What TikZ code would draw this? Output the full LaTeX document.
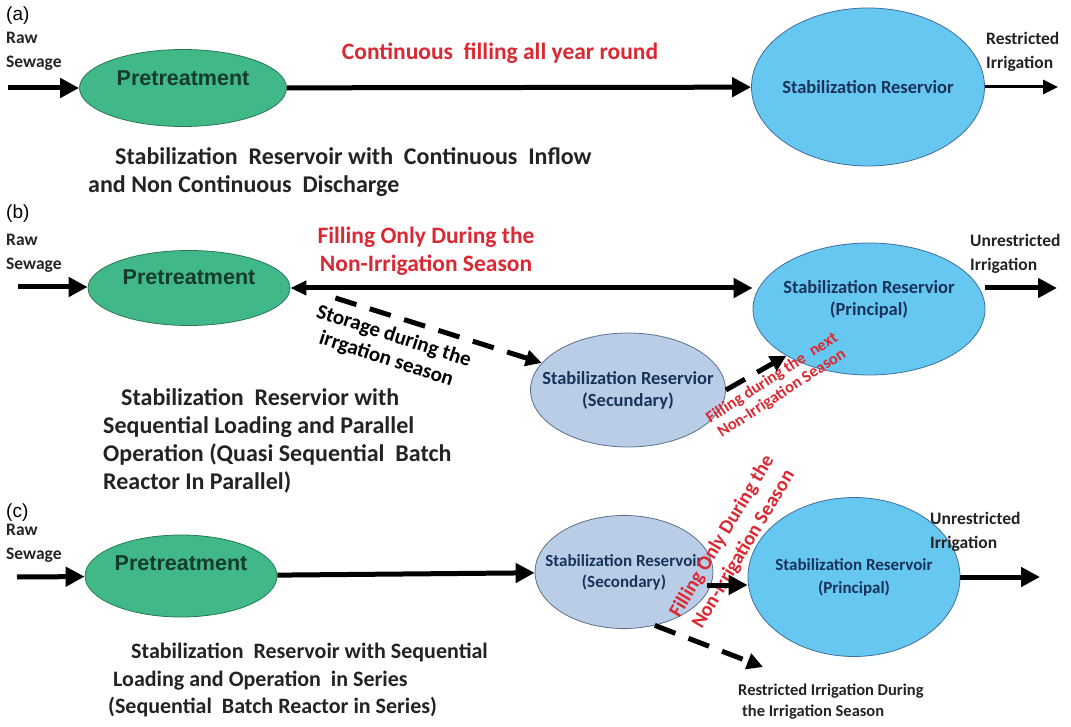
\documentclass[tikz,border=0pt]{standalone}
\usepackage{fontspec}
\setmainfont{Carlito}
\newfontfamily\arialfont{Liberation Sans}
\usetikzlibrary{shapes.geometric,arrows.meta}

\definecolor{pgreen}{RGB}{64,184,136}
\definecolor{pgreenD}{RGB}{40,120,85}
\definecolor{ptext}{RGB}{20,60,40}
\definecolor{rblue}{RGB}{102,200,240}
\definecolor{rblueD}{RGB}{60,110,160}
\definecolor{rtext}{RGB}{25,50,90}
\definecolor{sgray}{RGB}{185,205,230}
\definecolor{sgrayD}{RGB}{90,110,140}
\definecolor{fillred}{RGB}{220,40,50}
\definecolor{captxt}{RGB}{35,35,35}

\tikzset{
  flow/.style={line width=5pt, -{Triangle[length=19pt,width=19pt]}},
  thinflow/.style={line width=3pt, -{Triangle[length=15pt,width=14pt]}},
  dflow/.style={line width=5pt, dash pattern=on 22pt off 14pt, -{Triangle[length=16pt,width=16pt]}},
  pretreat/.style={ellipse, draw=pgreenD, fill=pgreen, line width=0.8pt, inner sep=0pt},
  principal/.style={ellipse, draw=rblueD, fill=rblue, line width=0.8pt, inner sep=0pt},
  secondary/.style={ellipse, draw=sgrayD, fill=sgray, line width=0.8pt, inner sep=0pt},
  pretxt/.style={font=\arialfont\bfseries\fontsize{21.5}{24}\selectfont, text=ptext},
  restxt/.style={font=\bfseries\fontsize{18.5}{22}\selectfont, text=rtext, align=center},
  letter/.style={font=\arialfont\fontsize{19}{22}\selectfont, anchor=west, inner sep=0pt},
  side/.style={font=\bfseries\fontsize{17.5}{24}\selectfont, text=captxt, align=left, anchor=west, inner sep=0pt},
  caption/.style={font=\bfseries\fontsize{24}{28}\selectfont, text=captxt, align=left, anchor=west, inner sep=0pt},
  redtxt/.style={font=\bfseries\fontsize{23.5}{28}\selectfont, text=fillred, align=center, inner sep=0pt},
}

\begin{document}
\begin{tikzpicture}[x=1pt,y=-1pt]
\useasboundingbox (0,0) rectangle (1071,727);

% (a) continuous inflow
\node[letter] (la) at (6,16) {(a)};
\node[side] (rawA) at (6,51) {Raw\\Sewage};
\coordinate (inA) at (8,88);
\coordinate (outA) at (1058,87);
\node[pretreat, minimum width=207pt, minimum height=77pt,
      label={[pretxt, yshift=10pt]center:Pretreatment}] (pretA) at (183,88) {};
\node[principal, minimum width=233pt, minimum height=158pt,
      label={[restxt]center:Stabilization Reservior}] (resA) at (868,87) {};
\node[redtxt] (fillA) at (500,53) {Continuous\ \ filling all year round};
\node[side] (irrA) at (986,52) {Restricted\\Irrigation};
\draw[flow] (inA) -- (pretA);
\draw[flow] (pretA) -- (resA);
\draw[thinflow] (resA) -- (outA);
\node[caption] (capA) at (88,172) {\hspace*{27pt}Stabilization\ \ Reservoir with\ \ Continuous\ \ Inflow\\and Non Continuous\ \ Discharge};

% (b) parallel operation
\node[letter] (lb) at (6,214) {(b)};
\node[side] (rawB) at (6,253) {Raw\\Sewage};
\coordinate (inB) at (18,287);
\coordinate (outB) at (1057,288);
\node[pretreat, minimum width=202pt, minimum height=75pt,
      label={[pretxt, yshift=11pt]center:Pretreatment}] (pretB) at (189,288) {};
\node[principal, minimum width=232pt, minimum height=132pt,
      label={[restxt, yshift=10pt]center:Stabilization Reservior\\(Principal)}] (resB) at (869,309) {};
\node[secondary, minimum width=195pt, minimum height=114pt,
      label={[restxt]center:Stabilization Reservior\\(Secundary)}] (secB) at (628,390) {};
\node[redtxt] (fillB) at (426,251) {Filling Only During the\\Non-Irrigation Season};
\node[redtxt, font=\bfseries\fontsize{21}{24}\selectfont, text=black, rotate=-18] (storeB) at (390,348) {Storage during the\\irrgation season};
\node[redtxt, font=\bfseries\fontsize{16.5}{18}\selectfont, rotate=33] (nextB) at (777,386) {Filling during the\ \ next\\Non-Irrigation Season};
\node[side] (irrB) at (970,254) {Unrestricted\\Irrigation};
\draw[flow] (inB) -- (inB -| pretB.west);
\draw[flow, {Triangle[length=16pt,width=14pt]}-{Triangle[length=19pt,width=19pt]}] (pretB.east) -- (pretB.east -| resB.west);
\draw[flow] (resB.east |- outB) -- (outB);
\draw[dflow] ([xshift=45pt,yshift=-10pt]pretB.east) -- (secB);
\draw[dflow] (secB.east) -- (resB);
\node[caption] (capB) at (103,441) {\hspace*{18pt}Stabilization\ \ Reservior with\\Sequential Loading and Parallel\\Operation (Quasi Sequential\ \ Batch\\Reactor In Parallel)};

% (c) operation in series
\node[letter] (lc) at (6,513) {(c)};
\node[side] (rawC) at (6,543) {Raw\\Sewage};
\coordinate (inC) at (17,577);
\coordinate (outC) at (1040,577);
\coordinate (restC) at (763,667);
\node[pretreat, minimum width=192pt, minimum height=82pt,
      label={[pretxt, yshift=13pt]center:Pretreatment}] (pretC) at (181,576) {};
\node[secondary, minimum width=178pt, minimum height=113pt,
      label={[restxt, font=\bfseries\fontsize{17}{21}\selectfont]center:Stabilization Reservoir\\(Secondary)}] (secC) at (624,572) {};
\node[principal, minimum width=212pt, minimum height=159pt,
      label={[restxt, font=\bfseries\fontsize{17}{23}\selectfont]center:Stabilization Reservoir\\(Principal)}] (resC) at (854,577) {};
\node[redtxt, font=\bfseries\fontsize{20}{25}\selectfont, rotate=59] (fillC) at (733,543) {Filling Only During the\\Non-Irrigation Season};
\node[side] (irrC) at (930,532) {Unrestricted\\Irrigation};
\node[side, font=\bfseries\fontsize{16.5}{21}\selectfont] (restxtC) at (738,702) {Restricted Irrigation During\\\hspace*{4pt}the Irrigation Season};
\draw[flow] (inC) -- (pretC);
\draw[flow] (pretC) -- (secC);
\draw[flow] ([shift={(-6,13)}]secC.east) -- ([yshift=-8pt]resC.west);
\draw[flow] (resC.east |- outC) -- (outC);
\draw[dflow] (secC.-60) -- (restC);
\node[caption, font=\bfseries\fontsize{22}{27.5}\selectfont] (capC) at (108,680) {\hspace*{23pt}Stabilization\ \ Reservoir with Sequential\\\hspace*{5pt}Loading and Operation\ \ in Series\\(Sequential\ \ Batch Reactor in Series)};
\end{tikzpicture}
\end{document}
